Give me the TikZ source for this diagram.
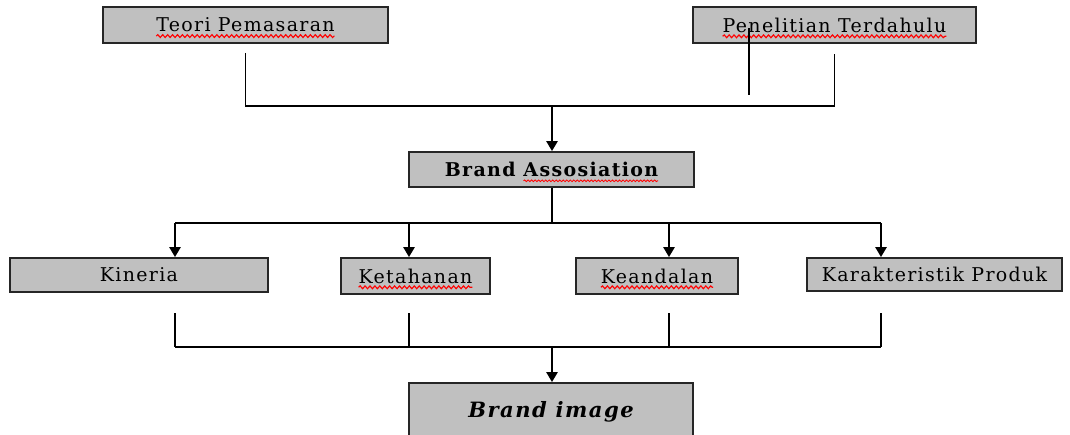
\documentclass[tikz,border=0pt]{standalone}
\usepackage{fontspec}
\usetikzlibrary{arrows.meta,decorations.pathmorphing}
\setmainfont{DejaVu Serif}[LetterSpace=7]
\definecolor{boxgray}{HTML}{C0C0C0}
\newcommand\boxfont{\fontsize{13.5}{15}\selectfont}
\tikzset{
  box/.style={draw=black!85, line width=1.4pt, fill=boxgray, inner sep=0pt,
    minimum height=0.9cm, font=\boxfont},
  word/.style={inner sep=0pt, outer sep=0pt, anchor=base, font=\boxfont},
  link/.style={line width=1.1pt},
  arr/.style={link, -{Triangle[width=8pt,length=7pt]}},
  spell/.style={red, line width=0.8pt, decorate,
    decoration={snake, segment length=3.5pt, amplitude=1pt}},
}
% red wavy mark under a box text
\newcommand\spellunder[2]{%
  \node[word] (#1w) at (#1.base) {\phantom{#2}};
  \draw[spell] ([yshift=-3pt]#1w.base west) -- ([yshift=-3pt]#1w.base east);}

\begin{document}
\begin{tikzpicture}[x=0.025cm, y=-0.025cm]
    \clip (0,0) rectangle (1070,434);

    % sources
    \node[box, minimum width=7.125cm] (teori)    at (245.5,25) {Teori Pemasaran};
    \node[box, minimum width=7.075cm] (peneliti) at (834.5,25) {Penelitian Terdahulu};

    % brand association
    \node[box, minimum width=7.125cm, minimum height=0.875cm,
          font=\boxfont\bfseries] (assos) at (551.5,169.5) {Brand Assosiation};

    % dimensions
    \node[box, minimum width=6.45cm,  minimum height=0.85cm]  (kinerja)  at (139,275)   {Kineria};
    \node[box, minimum width=3.725cm]                         (tahan)    at (415.5,276) {Ketahanan};
    \node[box, minimum width=4.05cm]                          (andal)    at (657,276)   {Keandalan};
    \node[box, minimum width=6.375cm, minimum height=0.825cm] (karakter) at (934.5,274.5) {Karakteristik Produk};

    % result
    \node[box, minimum width=7.1cm, minimum height=1.45cm,
          font=\fontsize{15}{17}\selectfont\bfseries\itshape] (image) at (551,412) {Brand image};

    % spelling marks
    \spellunder{teori}{Teori Pemasaran}
    \spellunder{peneliti}{Penelitian Terdahulu}
    \spellunder{tahan}{Ketahanan}
    \spellunder{andal}{Keandalan}
    \node[word, font=\boxfont\bfseries] (assosw) at (assos.base) {\phantom{Brand Assosiation}};
    \node[word, font=\boxfont\bfseries, anchor=base east] (assosv) at (assosw.base east) {\phantom{Assosiation}};
    \draw[spell, line width=0.6pt, decoration={amplitude=0.6pt, segment length=2.5pt}]
        ([yshift=-3pt]assosv.base west) -- ([yshift=-3pt]assosv.base east);

    % join points
    \coordinate (jtop) at (552,106);
    \coordinate (jmid) at (552,223);
    \coordinate (jbot) at (552,347);
    \foreach \x/\n in {175/1,409/2,669/3,881/4}{
        \coordinate (d\n) at (\x,223);
        \coordinate (u\n) at (\x,313);
        \coordinate (b\n) at (\x,347);
    }

    % top connectors
    \draw[link] ([yshift=-0.225cm]teori.south) |- (jtop) -| ([yshift=-0.25cm]peneliti.south);
    \draw[link] ([shift={(-2.1375cm,-0.075cm)}]peneliti.center) -- ++(0,67);
    \draw[arr] (jtop) -- (jtop |- assos.north);

    % fan out
    \draw[link] (jmid |- assos.south) -- (jmid);
    \draw[link] (d1) -- (d4);
    \foreach \n/\b in {1/kinerja,2/tahan,3/andal,4/karakter}
        \draw[arr] (d\n) -- (d\n |- \b.north);

    % collect
    \foreach \n in {1,...,4}
        \draw[link] (u\n) -- (b\n);
    \draw[link] (b1) -- (b4);
    \draw[arr] (jbot) -- (jbot |- image.north);
\end{tikzpicture}
\end{document}
